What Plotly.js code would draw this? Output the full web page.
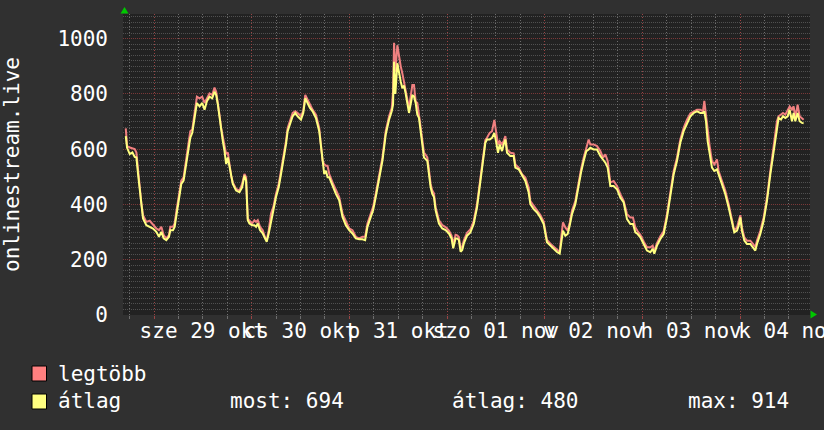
<!DOCTYPE html>
<html><head><meta charset="utf-8">
<script src="https://cdn.plot.ly/plotly-3.0.1.min.js"></script>
<style>html,body{margin:0;padding:0;background:#303030;} #chart{width:824px;height:430px;}</style>
</head><body><div id="chart"></div>
<script>
// hours relative to 2025-10-29 00:00
const hours = [
-6.94,-6.62,-5.96,-5.31,-4.74,-4.33,-3.92,-3.51,-3.10,-2.70,-1.88,-1.06,-0.25,0.57,1.23,1.80,2.37,3.02,3.68,4.00,
4.66,5.07,5.47,6.13,6.70,7.27,7.92,8.42,8.91,9.40,9.97,10.54,11.19,11.85,12.42,12.99,13.64,14.30,14.87,15.28,
15.69,16.09,16.50,16.91,17.32,17.73,18.14,18.55,18.95,19.36,20.18,21.00,21.65,22.22,22.63,23.04,23.45,24.10,24.67,25.08,
25.49,26.06,26.72,27.37,27.70,28.19,28.76,29.33,29.98,30.64,31.21,31.78,32.43,32.84,33.42,34.07,34.72,35.29,36.11,36.68,
37.17,37.75,38.32,38.97,39.79,40.60,41.01,41.42,41.83,42.24,42.65,43.06,43.87,44.69,45.51,46.32,47.14,47.96,48.77,49.59,
50.41,51.23,51.88,52.45,53.27,53.84,54.49,55.31,56.13,56.94,57.76,58.42,58.74,58.99,59.31,59.80,60.21,60.62,61.03,61.44,
61.85,62.66,63.48,63.89,64.30,64.71,65.11,65.52,65.93,66.34,66.75,67.16,67.57,67.97,68.38,68.79,69.20,69.61,70.02,70.83,
71.65,72.47,73.12,73.53,74.10,74.51,74.92,75.33,75.74,76.14,
76.92,77.74,78.56,79.37,79.78,80.19,80.60,81.01,81.42,81.83,82.49,83.06,83.63,84.04,84.53,84.94,85.52,85.93,86.34,86.75,
87.56,88.38,88.79,89.61,90.43,91.25,92.07,92.48,93.29,94.12,94.94,95.75,96.57,97.39,98.21,99.03,99.69,100.01,100.50,101.08,
101.65,102.14,102.72,103.53,104.35,104.93,105.58,106.24,106.81,107.22,108.04,108.86,109.68,110.33,110.91,111.48,112.13,112.95,113.77,114.59,
115.41,116.23,117.05,117.70,118.28,118.85,119.51,120.32,121.14,121.96,122.54,122.94,123.60,124.42,125.24,126.06,126.88,127.70,128.51,129.33,
130.15,130.97,131.79,132.61,133.43,134.25,134.90,135.23,135.64,136.05,136.54,137.11,137.69,138.34,138.75,139.57,140.39,141.21,142.03,142.60,
143.26,143.67,144.08,144.48,145.06,145.71,146.53,147.19,147.76,148.17,148.99,149.81,150.63,151.45,152.27,153.08,153.49,154.07,154.56,155.13,
155.71,156.20,156.77,157.18,157.59,158.16,158.65,159.23,159.64
];
const avgValues = [
647,605,582,588,572,570,510,450,391,349,325,319,313,301,283,301,277,271,283,307,
307,319,355,427,474,486,546,594,641,659,713,767,755,767,743,773,790,784,808,796,
761,713,665,629,594,546,570,534,498,474,450,444,462,504,486,343,331,325,325,319,
331,307,295,271,265,295,343,379,427,462,510,558,617,665,695,719,731,719,707,731,
784,767,749,737,713,665,605,546,510,522,498,498,468,438,415,355,325,307,295,277,
274,274,271,319,355,379,427,486,558,653,707,737,761,916,800,911,870,845,820,830,
800,731,796,790,767,725,713,665,600,570,564,558,510,462,438,427,379,355,331,313,
307,295,277,241,277,277,271,229,235,259,
287,299,329,389,437,485,533,581,623,635,635,641,659,629,587,617,593,617,635,587,
575,575,533,527,503,485,443,401,383,371,353,329,263,251,239,228,222,263,305,287,
293,323,365,401,473,515,557,593,599,605,599,599,575,563,551,533,467,467,455,425,
407,347,329,329,299,293,281,257,233,227,239,222,251,275,293,353,437,509,557,623,
665,695,719,731,737,731,731,737,701,629,587,533,521,527,509,473,437,389,329,299,
305,323,353,305,269,257,257,245,233,257,293,341,413,509,593,689,713,707,719,713,
719,743,701,731,701,731,701,695,694
];
const maxValues = [
675,612,606,603,600,588,522,462,403,361,337,341,325,313,307,319,289,277,289,319,
319,331,373,439,486,498,564,612,665,671,731,790,784,790,767,784,802,796,823,808,
773,725,677,641,612,582,588,540,504,480,456,450,474,510,498,349,343,331,343,337,
343,319,307,277,271,307,367,391,439,474,522,570,629,677,707,731,737,731,719,739,
796,779,758,743,725,677,617,558,546,540,540,510,480,450,427,367,337,313,307,283,
277,283,283,331,367,391,439,498,570,665,719,749,808,985,880,976,930,900,874,840,
815,749,832,832,773,767,725,680,615,588,580,570,525,475,450,440,390,367,343,325,
318,305,287,255,290,288,282,240,248,270,
297,310,340,400,448,497,545,593,633,641,659,665,706,665,617,629,617,630,647,599,
587,585,545,533,509,497,461,412,395,380,362,338,272,258,246,234,228,275,335,317,
305,333,378,412,485,527,569,605,635,617,617,611,593,569,581,557,479,485,467,437,
413,365,353,353,317,303,290,266,245,245,251,230,260,285,303,365,449,521,569,635,
677,707,729,737,743,743,737,775,719,653,611,557,545,563,521,485,449,401,341,305,
317,335,361,317,281,269,269,257,245,269,305,353,425,521,617,701,719,725,731,725,
743,755,743,755,713,761,719,713,706
];
const dayLabelHours = [12, 36, 60, 84, 108, 132, 156];
const dayLabels = ["sze 29 okt", "cs 30 okt", "p 31 okt", "szo 01 nov", "v 02 nov", "h 03 nov", "k 04 nov"];
const seriesNames = ["legtöbb", "átlag"];
const statNames = ["most", "átlag", "max"];
const statValues = [694, 480, 914];
const yTitle = "onlinestream.live";

// layout geometry (pixels)
const L = 123, W = 687, B = 315, H = 301;
const px2x = p => (p - L) / W;
const py2y = p => (B - p) / H;
const XR = [-7.62, 161.2];

const FONT = "DejaVu Sans Mono";
const RED = "#f08080", YEL = "#ffff80";
const MAJ = "#7a3838", MIN = "#505050";
const VMAJ = "#9a4444", VMIN = "#6e6e6e";

const traces = [
  {x: [], y: [], xaxis: "x2", yaxis: "y", mode: "lines", showlegend: false, hoverinfo: "skip"},
  {x: [], y: [], xaxis: "x3", yaxis: "y", mode: "lines", showlegend: false, hoverinfo: "skip"},
  {x: hours, y: maxValues, name: seriesNames[0], mode: "lines", line: {color: RED, width: 2}, hoverinfo: "skip"},
  {x: hours, y: avgValues, name: seriesNames[1], mode: "lines", line: {color: YEL, width: 2}, hoverinfo: "skip"}
];

const annotations = [
  {text: yTitle, xref: "paper", yref: "paper", x: px2x(12), y: py2y(165), textangle: -90,
   showarrow: false, xanchor: "center", yanchor: "middle", font: {family: FONT, size: 21, color: "#ffffff"}},
  {text: seriesNames[0], xref: "paper", yref: "paper", x: px2x(56), y: py2y(374), showarrow: false,
   xanchor: "left", yanchor: "middle", font: {family: FONT, size: 21, color: "#ffffff"}},
  {text: seriesNames[1], xref: "paper", yref: "paper", x: px2x(56), y: py2y(401), showarrow: false,
   xanchor: "left", yanchor: "middle", font: {family: FONT, size: 21, color: "#ffffff"}}
];
const statX = [228, 450, 686];
statNames.forEach((n, i) => {
  annotations.push({text: n + ": " + statValues[i], xref: "paper", yref: "paper", x: px2x(statX[i]), y: py2y(401),
    showarrow: false, xanchor: "left", yanchor: "middle", font: {family: FONT, size: 21, color: "#ffffff"}});
});

const shapes = [
  {type: "rect", xref: "paper", yref: "paper", x0: px2x(32), x1: px2x(46.5), y0: py2y(366), y1: py2y(381),
   fillcolor: "#ff8080", line: {color: "#000000", width: 1}},
  {type: "rect", xref: "paper", yref: "paper", x0: px2x(32), x1: px2x(46.5), y0: py2y(394), y1: py2y(409),
   fillcolor: "#ffff80", line: {color: "#000000", width: 1}},
  {type: "path", xref: "paper", yref: "paper",
   path: `M ${px2x(120.5)} ${py2y(13.5)} L ${px2x(128.5)} ${py2y(13.5)} L ${px2x(124.5)} ${py2y(7)} Z`,
   fillcolor: "#00c800", line: {width: 0}},
  {type: "path", xref: "paper", yref: "paper",
   path: `M ${px2x(810.5)} ${py2y(310.5)} L ${px2x(810.5)} ${py2y(318.5)} L ${px2x(817)} ${py2y(314.5)} Z`,
   fillcolor: "#00c800", line: {width: 0}}
];

const layout = {
  width: 824, height: 430,
  margin: {l: L, r: 824 - L - W, t: B - H, b: 430 - B},
  paper_bgcolor: "#303030", plot_bgcolor: "#222222",
  showlegend: false,
  font: {family: FONT, color: "#ffffff", size: 21},
  xaxis: {
    range: XR, tickmode: "linear", tick0: 0, dtick: 6,
    showticklabels: false, showgrid: true, gridcolor: VMIN, griddash: "1px,2px", gridwidth: 1,
    ticks: "outside", ticklen: 3, tickcolor: VMIN, zeroline: false, showline: false, fixedrange: true
  },
  xaxis2: {
    range: XR, overlaying: "x", anchor: "y", side: "bottom",
    tickmode: "linear", tick0: 0, dtick: 24, showticklabels: false,
    showgrid: true, gridcolor: VMAJ, griddash: "1px,2px", gridwidth: 1,
    ticks: "outside", ticklen: 3, tickcolor: VMAJ, zeroline: false, showline: false, fixedrange: true
  },
  xaxis3: {
    range: XR, overlaying: "x", anchor: "y", side: "bottom",
    tickmode: "array", tickvals: dayLabelHours, ticktext: dayLabels,
    showgrid: false, zeroline: false, showline: false, ticks: "", tickangle: 0,
    ticklabeloverflow: "allow",
    tickfont: {family: FONT, size: 21, color: "#ffffff"}, ticklabelstandoff: 1, fixedrange: true
  },
  yaxis: {
    range: [0, 1089], tickmode: "linear", tick0: 0, dtick: 200,
    showgrid: true, gridcolor: MAJ, griddash: "1px,1px", gridwidth: 1,
    zeroline: false, showline: false, ticks: "", ticklabelstandoff: 14,
    tickfont: {family: FONT, size: 21, color: "#ffffff"}, fixedrange: true,
    minor: {tick0: 0, dtick: 20, showgrid: true, gridcolor: MIN, griddash: "1px,1px", gridwidth: 1}
  },
  annotations: annotations,
  shapes: shapes
};

Plotly.newPlot("chart", traces, layout, {staticPlot: true, displayModeBar: false});
</script>
</body></html>
